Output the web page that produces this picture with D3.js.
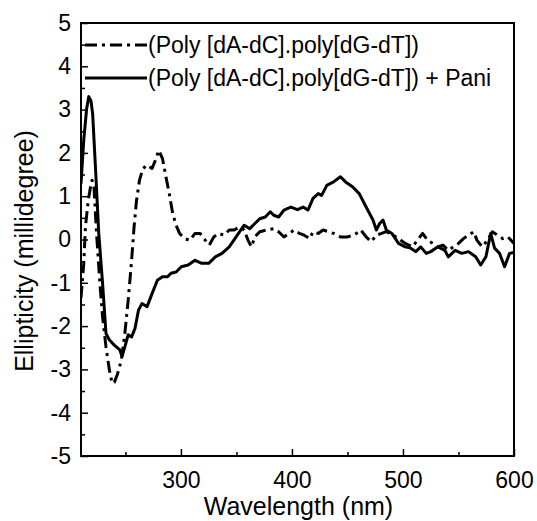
<!DOCTYPE html>
<html>
<head>
<meta charset="utf-8">
<script src="https://cdn.jsdelivr.net/npm/d3@7"></script>
<style>
  html, body { margin: 0; padding: 0; background: #fff; }
  svg { display: block; font-family: "Liberation Sans", Arial, Helvetica, sans-serif; }
</style>
</head>
<body>
<svg id="chart" width="537" height="521"></svg>
<script>
// ---- Data ----
const seriesNames = ["(Poly [dA-dC].poly[dG-dT])", "(Poly [dA-dC].poly[dG-dT]) + Pani"];

// Series 1: Poly[dA-dC].poly[dG-dT] (dash-dot)
const wavelengthPoly = [210,212.5,214,216.5,218.6,220,221.7,224,227,229.4,232.5,235.6,238,240,243,246.4,249.5,252.5,255.6,257.8,260,262.7,265.8,269.5,274,277,280,283.4,286.5,289.5,292.6,295.7,298.8,303.4,308,312.7,317.3,322,325.6,329.6,334,339,343.5,348,352.7,357,360.5,363.5,366.6,371,377.4,383.6,388,392.8,397.5,402,406.7,411,416,419,423.7,428,433,437.5,443.7,450,456,462,466.8,471.4,476,480.7,485,491.4,496,502,508.5,513,517.7,522.3,527,531.5,536,540.8,545.5,550,554.5,559,563.8,566.7,571.4,576,580.5,585,590,594.5,600];
const ellipticityPoly = [-1.35,-0.55,0.29,0.9,1.22,1.37,1.2,0.14,-1.0,-1.78,-2.48,-3.02,-3.32,-3.3,-3.1,-2.78,-2.17,-1.4,-0.48,0.29,0.9,1.37,1.64,1.72,1.64,1.83,2.06,1.87,1.45,1.06,0.6,0.33,0.14,0.02,-0.02,0.14,0.14,-0.02,-0.13,0.06,0.14,0.1,0.22,0.22,0.29,0.22,-0.02,-0.17,0.06,0.18,0.22,0.25,0.18,0.06,0.14,0.22,0.14,0.1,0.02,0.18,0.14,0.22,0.18,0.14,0.06,0.06,0.1,0.22,0.06,-0.05,0.1,0.14,0.18,0.1,0.02,-0.09,-0.17,-0.02,0.14,-0.02,-0.09,-0.17,-0.13,-0.25,-0.17,-0.09,0.02,0.1,0.18,-0.02,-0.17,-0.02,0.18,0.1,0.02,0.06,-0.09];

// Series 2: Poly[dA-dC].poly[dG-dT] + Pani (solid)
const wavelengthPani = [210,212.5,215,217,219,220.5,223,226,229.4,232.5,235.6,240,245,247,249.5,252.5,255.6,258.7,261.8,264.9,269.5,274,278.8,283.4,288,291,295.7,300.3,306.5,312.7,318.8,325,331,337,343.5,349.7,354,357,362,366.6,371,376,380.5,383.6,388,392.8,399,405,410,414.4,419,423.7,426.7,431.4,437.5,443.7,448.3,454.5,460.6,466.8,473,476,479,482,485,490,496,502,507,511.5,516,521,525,531.5,537.7,540.8,547,553,559,565.5,570,574.7,579,582.5,587,591.5,596,600];
const ellipticityPani = [1.29,2.3,3.0,3.3,3.2,2.9,1.68,0.14,-1.0,-2.17,-2.32,-2.44,-2.55,-2.7,-2.48,-2.2,-2.25,-2.05,-1.63,-1.48,-1.55,-1.25,-0.94,-0.86,-0.86,-0.78,-0.75,-0.63,-0.59,-0.48,-0.55,-0.55,-0.4,-0.32,-0.17,0.06,0.22,0.33,0.25,0.37,0.48,0.52,0.64,0.56,0.52,0.68,0.75,0.69,0.75,0.68,0.95,1.06,1.02,1.25,1.33,1.45,1.33,1.22,1.06,0.75,0.45,0.22,0.37,0.45,0.22,0.14,-0.09,-0.17,-0.2,-0.28,-0.17,-0.32,-0.28,-0.17,-0.25,-0.4,-0.25,-0.32,-0.28,-0.4,-0.59,-0.4,0.14,-0.2,-0.32,-0.63,-0.32,-0.3];

// Axis ticks
const xMajorTicks = [300, 400, 500, 600];
const xMinorTicks = [250, 350, 450, 550];
const yMajorTicks = [-5, -4, -3, -2, -1, 0, 1, 2, 3, 4, 5];
const yMinorTicks = [-4.5, -3.5, -2.5, -1.5, -0.5, 0.5, 1.5, 2.5, 3.5, 4.5];
const xDomain = [210, 600];
const yDomain = [-5, 5];
const xTitle = "Wavelength (nm)";
const yTitle = "Ellipticity (millidegree)";

// ---- Layout ----
const svg = d3.select("#chart");
const L = 81, R = 514, T = 23, B = 456;
const x = d3.scaleLinear().domain(xDomain).range([L, R]);
const y = d3.scaleLinear().domain(yDomain).range([B, T]);

const tickFont = "23px";

// Minor ticks (no labels)
svg.append("g").attr("transform", `translate(0,${B})`)
  .call(d3.axisBottom(x).tickValues(xMinorTicks).tickSize(-4).tickFormat(""))
  .call(g => g.select(".domain").remove())
  .selectAll("line").attr("stroke", "#000").attr("stroke-width", 1.5);

svg.append("g").attr("transform", `translate(${L},0)`)
  .call(d3.axisLeft(y).tickValues(yMinorTicks).tickSize(-4).tickFormat(""))
  .call(g => g.select(".domain").remove())
  .selectAll("line").attr("stroke", "#000").attr("stroke-width", 1.5);

// Major ticks
const gx = svg.append("g").attr("transform", `translate(0,${B})`)
  .call(d3.axisBottom(x).tickValues(xMajorTicks).tickSize(-7).tickPadding(16).tickFormat(d3.format("d")));
gx.select(".domain").remove();
gx.selectAll("line").attr("stroke", "#000").attr("stroke-width", 1.5);
gx.selectAll("text").attr("font-size", tickFont).attr("fill", "#000")
  .attr("font-family", "'Liberation Sans', Arial, sans-serif");

const gy = svg.append("g").attr("transform", `translate(${L},0)`)
  .call(d3.axisLeft(y).tickValues(yMajorTicks).tickSize(-7).tickPadding(10).tickFormat(d3.format("d")));
gy.select(".domain").remove();
gy.selectAll("line").attr("stroke", "#000").attr("stroke-width", 1.5);
gy.selectAll("text").attr("font-size", tickFont).attr("fill", "#000")
  .attr("font-family", "'Liberation Sans', Arial, sans-serif")
  .text(d => d < 0 ? "-" + Math.abs(d) : String(d));

// Curves
const line = d3.line().x(d => x(d[0])).y(d => y(d[1]));
const polyData = wavelengthPoly.map((w, i) => [w, ellipticityPoly[i]]);
const paniData = wavelengthPani.map((w, i) => [w, ellipticityPani[i]]);

svg.append("clipPath").attr("id", "clip")
  .append("rect").attr("x", L).attr("y", T).attr("width", R - L).attr("height", B - T);

const plot = svg.append("g").attr("clip-path", "url(#clip)");
plot.append("path").datum(polyData)
  .attr("d", line).attr("fill", "none").attr("stroke", "#000")
  .attr("stroke-width", 3).attr("stroke-dasharray", "12,5,3,5")
  .attr("stroke-linejoin", "round");
plot.append("path").datum(paniData)
  .attr("d", line).attr("fill", "none").attr("stroke", "#000")
  .attr("stroke-width", 3).attr("stroke-linejoin", "round");

// Frame
svg.append("rect").attr("x", L).attr("y", T).attr("width", R - L).attr("height", B - T)
  .attr("fill", "none").attr("stroke", "#000").attr("stroke-width", 2);

// Legend
const legend = svg.append("g");
const legendRows = [
  { name: seriesNames[0], dash: "12,5,3,5", y: 45 },
  { name: seriesNames[1], dash: null, y: 78 }
];
legendRows.forEach(r => {
  legend.append("line").attr("x1", 85).attr("x2", 147).attr("y1", r.y).attr("y2", r.y)
    .attr("stroke", "#000").attr("stroke-width", 3)
    .attr("stroke-dasharray", r.dash);
  legend.append("text").attr("x", 148).attr("y", r.y + 8)
    .attr("font-size", "23px").attr("fill", "#000").text(r.name);
});

// Axis titles
svg.append("text").attr("x", (L + R) / 2 + 1).attr("y", 515)
  .attr("text-anchor", "middle").attr("font-size", "25px").attr("fill", "#000").text(xTitle);
svg.append("text").attr("transform", "translate(33,251) rotate(-90)")
  .attr("text-anchor", "middle").attr("font-size", "25px").attr("fill", "#000").text(yTitle);
</script>
</body>
</html>
